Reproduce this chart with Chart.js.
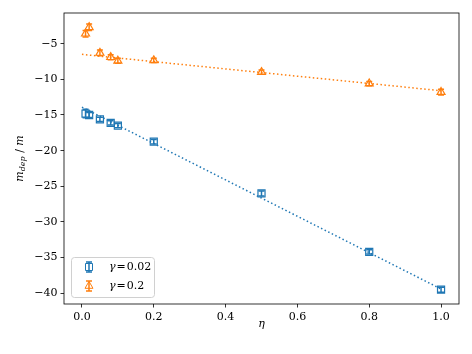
<!DOCTYPE html>
<html>
<head>
<meta charset="utf-8">
<script src="https://cdn.jsdelivr.net/npm/chart.js@4/dist/chart.umd.min.js"></script>
<style>
  body { margin: 0; background: #fff; }
  canvas { display: block; }
</style>
</head>
<body>
<canvas id="chart" width="472" height="354"></canvas>
<script>
// valeurs
const eta = [0.01, 0.02, 0.05, 0.08, 0.1, 0.2, 0.5, 0.8, 1.0];
const mBlue = [-14.8, -15.0, -15.6, -16.1, -16.5, -18.75, -26.0, -34.2, -39.5];
const errBlue = [0.6, 0.35, 0.3, 0.3, 0.3, 0.3, 0.35, 0.3, 0.35];
const mOrange = [-3.6, -2.7, -6.3, -6.9, -7.4, -7.35, -9.0, -10.6, -11.8];
const errOrange = [0.45, 0.45, 0.4, 0.35, 0.35, 0.3, 0.3, 0.3, 0.4];
const fitEta = [0, 1];
const fitBlue = [-13.9, -39.4];
const fitOrange = [-6.5, -11.6];
const xTicks = [0, 0.2, 0.4, 0.6, 0.8, 1.0];
const yTicks = [-5, -10, -15, -20, -25, -30, -35, -40];

const BLUE = '#1f77b4';
const ORANGE = '#ff7f0e';
const SERIF = '"DejaVu Serif", serif';

const pts = (xs, ys) => xs.map((x, i) => ({ x: x, y: ys[i] }));

// barres d'erreur + cadre + légende + titres
const extras = {
  id: 'extras',
  afterDatasetsDraw(chart) {
    const ctx = chart.ctx;
    const xs = chart.scales.x, ys = chart.scales.y;
    chart.data.datasets.forEach(ds => {
      if (!ds.errors) return;
      ctx.save();
      ctx.strokeStyle = ds.borderColor;
      ctx.lineWidth = 1.5;
      ds.data.forEach((p, i) => {
        const px = xs.getPixelForValue(p.x);
        const y1 = ys.getPixelForValue(p.y - ds.errors[i]);
        const y2 = ys.getPixelForValue(p.y + ds.errors[i]);
        ctx.beginPath();
        ctx.moveTo(px, y1); ctx.lineTo(px, y2);
        ctx.moveTo(px - 3, y1); ctx.lineTo(px + 3, y1);
        ctx.moveTo(px - 3, y2); ctx.lineTo(px + 3, y2);
        ctx.stroke();
      });
      ctx.restore();
    });
  },
  afterDraw(chart) {
    const ctx = chart.ctx;
    const a = chart.chartArea;
    ctx.save();
    // cadre
    ctx.strokeStyle = '#000';
    ctx.lineWidth = 0.8;
    ctx.strokeRect(a.left, a.top, a.right - a.left, a.bottom - a.top);

    // légende
    const lx = 71, ly = 257, lw = 83, lh = 40;
    ctx.fillStyle = 'rgba(255,255,255,0.8)';
    ctx.strokeStyle = '#d0d0d0';
    ctx.lineWidth = 1;
    ctx.beginPath();
    ctx.roundRect(lx + 0.5, ly + 0.5, lw, lh, 3);
    ctx.fill(); ctx.stroke();

    const entries = [
      { color: BLUE, style: 'rect', label: '0.02', y: 267 },
      { color: ORANGE, style: 'triangle', label: '0.2', y: 286 }
    ];
    entries.forEach(e => {
      const cx = 89;
      ctx.strokeStyle = e.color;
      ctx.lineWidth = 1.5;
      ctx.beginPath();
      ctx.moveTo(cx, e.y - 5); ctx.lineTo(cx, e.y + 5);
      ctx.moveTo(cx - 3, e.y - 5); ctx.lineTo(cx + 3, e.y - 5);
      ctx.moveTo(cx - 3, e.y + 5); ctx.lineTo(cx + 3, e.y + 5);
      ctx.stroke();
      ctx.lineWidth = 1;
      ctx.beginPath();
      if (e.style === 'rect') {
        ctx.rect(cx - 3.5, e.y - 3.5, 7, 7);
      } else {
        ctx.moveTo(cx, e.y - 4.6);
        ctx.lineTo(cx + 4, e.y + 2.3);
        ctx.lineTo(cx - 4, e.y + 2.3);
        ctx.closePath();
      }
      ctx.stroke();

      ctx.fillStyle = '#000';
      ctx.textBaseline = 'middle';
      ctx.textAlign = 'left';
      ctx.font = 'italic 11px ' + SERIF;
      ctx.fillText('γ', 109, e.y);
      const gw = ctx.measureText('γ').width;
      ctx.font = '11px ' + SERIF;
      ctx.fillText('=', 109 + gw + 1, e.y);
      const ew = ctx.measureText('=').width;
      ctx.fillText(e.label, 109 + gw + ew + 2, e.y);
    });

    // titre x
    ctx.fillStyle = '#000';
    ctx.font = 'italic 11px ' + SERIF;
    ctx.textAlign = 'center';
    ctx.textBaseline = 'middle';
    ctx.fillText('η', (a.left + a.right) / 2, 324);

    // titre y : m_dep / m
    ctx.translate(20, (a.top + a.bottom) / 2);
    ctx.rotate(-Math.PI / 2);
    const parts = [
      { t: 'm', f: 'italic 11px ' + SERIF, dy: 0 },
      { t: 'dep', f: 'italic 8px ' + SERIF, dy: 3 },
      { t: ' / ', f: '11px ' + SERIF, dy: 0 },
      { t: 'm', f: 'italic 11px ' + SERIF, dy: 0 }
    ];
    let total = 0;
    parts.forEach(p => { ctx.font = p.f; p.w = ctx.measureText(p.t).width; total += p.w; });
    let x = -total / 2;
    ctx.textAlign = 'left';
    parts.forEach(p => {
      ctx.font = p.f;
      ctx.fillText(p.t, x, p.dy);
      x += p.w;
    });
    ctx.restore();
  }
};

const ctx = document.getElementById('chart').getContext('2d');

const chart = new Chart(ctx, {
  type: 'scatter',
  data: {
    datasets: [
      {
        label: 'fit 0.02',
        data: pts(fitEta, fitBlue),
        showLine: true,
        borderColor: BLUE,
        borderWidth: 1.5,
        borderDash: [1.5, 2.5],
        pointRadius: 0
      },
      {
        label: 'fit 0.2',
        data: pts(fitEta, fitOrange),
        showLine: true,
        borderColor: ORANGE,
        borderWidth: 1.5,
        borderDash: [1.5, 2.5],
        pointRadius: 0
      },
      {
        label: 'γ = 0.02',
        data: pts(eta, mBlue),
        errors: errBlue,
        borderColor: BLUE,
        backgroundColor: 'rgba(0,0,0,0)',
        pointStyle: 'rect',
        pointRadius: 5,
        pointBorderWidth: 1.2
      },
      {
        label: 'γ = 0.2',
        data: pts(eta, mOrange),
        errors: errOrange,
        borderColor: ORANGE,
        backgroundColor: 'rgba(0,0,0,0)',
        pointStyle: 'triangle',
        pointRadius: 4.6,
        pointBorderWidth: 1.2
      }
    ]
  },
  options: {
    responsive: false,
    animation: false,
    devicePixelRatio: 1,
    layout: { padding: { left: 0, right: 13, top: 13, bottom: 0 } },
    plugins: {
      legend: { display: false },
      tooltip: { enabled: false }
    },
    scales: {
      x: {
        type: 'linear',
        min: -0.05,
        max: 1.05,
        afterFit: s => { s.height = 50; },
        afterBuildTicks: s => { s.ticks = xTicks.map(v => ({ value: v })); },
        grid: { drawOnChartArea: false, tickLength: 3.5, tickColor: '#000', tickWidth: 0.8 },
        border: { display: false },
        ticks: {
          font: { family: SERIF, size: 11 },
          color: '#000',
          padding: 3,
          maxRotation: 0,
          callback: v => v.toFixed(1)
        }
      },
      y: {
        type: 'linear',
        min: -41.5,
        max: -0.7,
        afterFit: s => { s.width = 64; },
        afterBuildTicks: s => { s.ticks = yTicks.map(v => ({ value: v })); },
        grid: { drawOnChartArea: false, tickLength: 3.5, tickColor: '#000', tickWidth: 0.8 },
        border: { display: false },
        ticks: {
          font: { family: SERIF, size: 11 },
          color: '#000',
          padding: 3,
          callback: v => '−' + Math.abs(v)
        }
      }
    }
  },
  plugins: [extras]
});
</script>
</body>
</html>
